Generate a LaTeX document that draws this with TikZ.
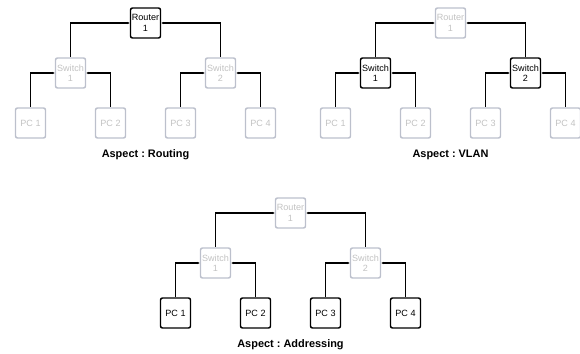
\documentclass[tikz,border=0pt]{standalone}
\usepackage{fontspec}
\setmainfont{Liberation Sans}
\usetikzlibrary{arrows.meta}
\definecolor{lightbd}{HTML}{BCC0CC}
\definecolor{lighttx}{HTML}{C2C2C2}
\tikzset{
  box/.style={rectangle, rounded corners=1.5pt, minimum width=22.5pt, minimum height=22.5pt,
    inner sep=0pt, line width=1.1pt, font=\fontsize{6.8}{7.7}\selectfont, align=center},
  darkbox/.style={box, draw=black, text=black},
  lightbox/.style={box, draw=lightbd, text=lighttx},
  conn/.style={line width=1.1pt, black, {Latex[length=1.8pt,width=1.8pt]}-},
  caption/.style={font=\bfseries\fontsize{8.2}{9.8}\selectfont}
}
\newcommand\nettree[7]{%
  % #1 prefix, #2 cx, #3 cy, #4 router style, #5 switch style, #6 pc style, #7 caption
  \node[#4] (#1R) at (#2,#3) {Router\\1};
  \node[#5] (#1S1) at (#2-75,#3+50) {Switch\\1};
  \node[#5] (#1S2) at (#2+75,#3+50) {Switch\\2};
  \node[#6] (#1P1) at (#2-115,#3+100) {PC 1};
  \node[#6] (#1P2) at (#2-35,#3+100) {PC 2};
  \node[#6] (#1P3) at (#2+35,#3+100) {PC 3};
  \node[#6] (#1P4) at (#2+115,#3+100) {PC 4};
  \draw[conn] (#1R.west) -| (#1S1.north);
  \draw[conn] (#1R.east) -| (#1S2.north);
  \draw[conn] (#1S1.west) -| (#1P1.north);
  \draw[conn] (#1S1.east) -| (#1P2.north);
  \draw[conn] (#1S2.west) -| (#1P3.north);
  \draw[conn] (#1S2.east) -| (#1P4.north);
  \node[caption] (#1L) at (#2,#3+132) {#7};
}
\frenchspacing
\begin{document}
\begin{tikzpicture}[x=0.75pt,y=-0.75pt]
  \useasboundingbox (0,0) rectangle (580,353);
  \nettree{a}{145.5}{23}{darkbox}{lightbox}{lightbox}{Aspect : Routing}
  \nettree{b}{450.5}{23}{lightbox}{darkbox}{lightbox}{Aspect : VLAN}
  \nettree{c}{290.5}{213}{lightbox}{lightbox}{darkbox}{Aspect : Addressing}
\end{tikzpicture}
\end{document}
